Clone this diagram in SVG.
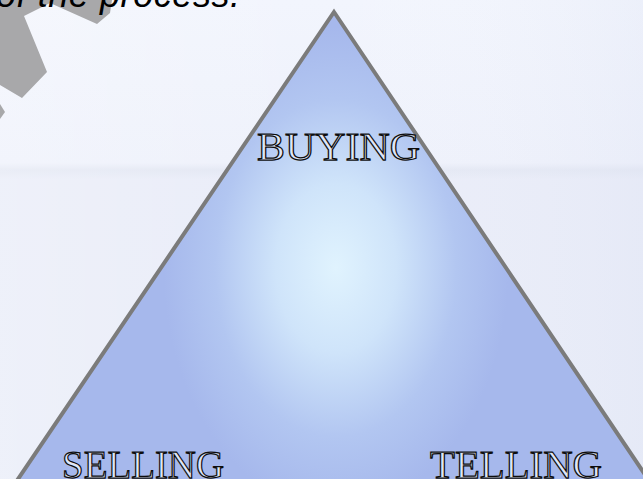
<svg xmlns="http://www.w3.org/2000/svg" width="643" height="479" viewBox="0 0 643 479">
  <defs>
    <linearGradient id="bg" x1="0" y1="0" x2="0" y2="1">
      <stop offset="0" stop-color="#f2f5fd"/>
      <stop offset="0.34" stop-color="#eef1fb"/>
      <stop offset="0.355" stop-color="#e3e7f3"/>
      <stop offset="0.375" stop-color="#e9ecf8"/>
      <stop offset="1" stop-color="#e8ecf8"/>
    </linearGradient>
    <linearGradient id="bgside" x1="0" y1="0" x2="1" y2="0">
      <stop offset="0" stop-color="#ffffff" stop-opacity="0.25"/>
      <stop offset="0.5" stop-color="#ffffff" stop-opacity="0"/>
      <stop offset="1" stop-color="#dfe4f4" stop-opacity="0.3"/>
    </linearGradient>
    <radialGradient id="tri" cx="336" cy="268" r="230" gradientUnits="userSpaceOnUse" gradientTransform="translate(336 268) scale(0.75 1.05) translate(-336 -268)">
      <stop offset="0" stop-color="#e0f3fe"/>
      <stop offset="0.35" stop-color="#cfe4fa"/>
      <stop offset="0.7" stop-color="#b2c6f1"/>
      <stop offset="1" stop-color="#a6b8ec"/>
    </radialGradient>
  </defs>
  <style>
    .lbl { font-family: "Liberation Serif", "DejaVu Serif", serif; font-size: 41px; fill: #dfe6f8; stroke: #0d0d0d; stroke-width: 1.25px; }
    .note { font-family: "Liberation Sans", "DejaVu Sans", sans-serif; font-style: italic; font-size: 36px; fill: #000; }
  </style>
  <rect x="0" y="0" width="643" height="479" fill="url(#bg)"/>
  <rect x="0" y="0" width="643" height="479" fill="url(#bgside)"/>
  <g id="decor" fill="#a8a8aa">
    <polygon points="0,0 112,0 110,13 97,24 50,3 24,16 47,72 22,98 0,85"/>
    <polygon points="0,104 5,112 0,119"/>
  </g>
  <text class="note" x="-4" y="7" textLength="244">of the process.</text>
  <g id="triangle">
    <polygon points="334,12 652,485 14,485" fill="url(#tri)" stroke="#7b7b7b" stroke-width="4" stroke-linejoin="miter"/>
  </g>
  <g id="buying">
    <text class="lbl" x="257" y="160" textLength="163" lengthAdjust="spacingAndGlyphs">BUYING</text>
  </g>
  <g id="selling">
    <text class="lbl" x="62" y="478" textLength="162" lengthAdjust="spacingAndGlyphs">SELLING</text>
  </g>
  <g id="telling">
    <text class="lbl" x="430" y="478" textLength="172" lengthAdjust="spacingAndGlyphs">TELLING</text>
  </g>
</svg>
